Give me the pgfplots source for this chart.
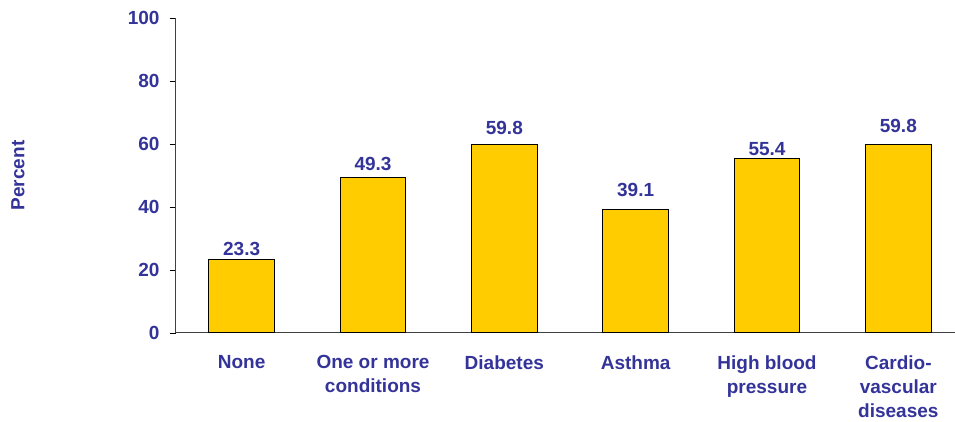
\documentclass[border=0pt]{standalone}
\usepackage{pgfplots}
\pgfplotsset{compat=1.18}
\usepackage{pgfplotstable}
\usepackage{fontspec}
\setmainfont{Liberation Sans}

\definecolor{labelblue}{HTML}{333399}
\definecolor{bargold}{HTML}{FFCC00}
\definecolor{axisgray}{HTML}{404040}

% category index, percent, label lift above the bar top (pt)
\pgfplotstableread{
x  y     off
0  23.3  4
1  49.3  7
2  59.8  10
3  39.1  13
4  55.4  3
5  59.8  12
}\datatable

\begin{document}
\begin{tikzpicture}
\useasboundingbox (0,0) rectangle (955pt,422pt);
\begin{axis}[
  at={(176pt,89pt)}, anchor=south west,
  scale only axis,
  width=788pt, height=315pt,
  xmin=-0.5, xmax=5.5,
  ymin=0, ymax=100,
  axis x line*=bottom,
  axis y line*=left,
  axis line style={draw=axisgray, line width=1pt},
  every tick/.style={draw=black, line width=0.9pt},
  tick align=outside,
  /pgf/number format/assume math mode=true,
  ytick={0,20,...,100},
  major tick length=6pt,
  minor tick length=5pt,
  xtick={0,...,5},
  xtick style={draw=none},
  minor xtick={-0.5,0.5,...,5.5},
  xticklabels={None, One or more\\conditions, Diabetes, Asthma, High blood\\pressure, Cardio-\\vascular\\diseases},
  x tick label style={font=\bfseries\fontsize{19}{24}\selectfont, text=labelblue, align=center, anchor=north, yshift=-13pt},
  y tick label style={font=\bfseries\fontsize{19}{24}\selectfont, text=labelblue, xshift=-7pt},
  ylabel={Percent},
  ylabel style={at={(axis description cs:-0.2005,0.5)}, anchor=center, font=\bfseries\fontsize{19}{24}\selectfont, text=labelblue},
  ybar, bar width=0.5,
  nodes near coords={\pgfmathprintnumber[fixed,fixed zerofill,precision=1]{\pgfplotspointmeta}},
  visualization depends on={\thisrow{off} \as \lift},
  every node near coord/.append style={font=\bfseries\fontsize{19}{24}\selectfont, text=labelblue, anchor=base, yshift=\lift pt, inner sep=0pt},
]
\addplot[fill=bargold, draw=black, line width=1pt] table[x=x, y=y] {\datatable};
\end{axis}
\end{tikzpicture}
\end{document}
